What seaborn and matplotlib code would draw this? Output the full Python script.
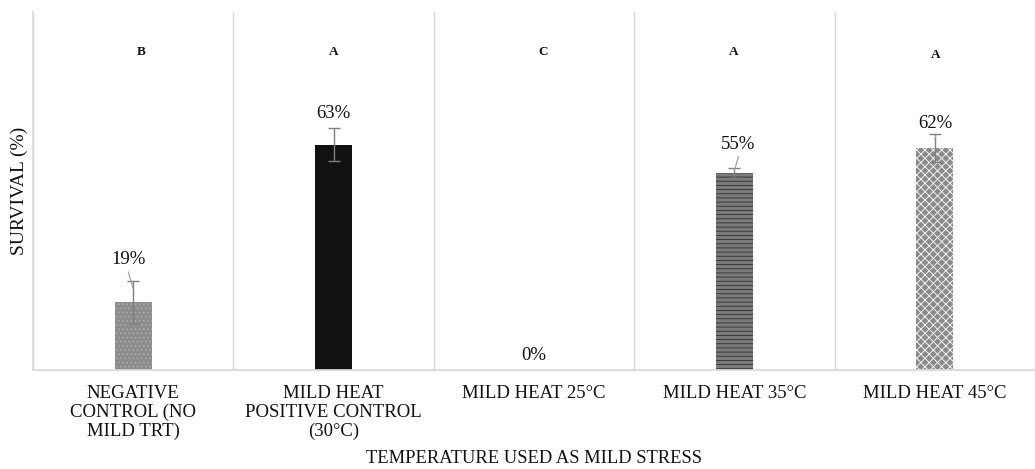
import matplotlib
matplotlib.use("Agg")
import matplotlib.pyplot as plt
import seaborn as sns
import pandas as pd
import numpy as np
from matplotlib.ticker import FixedLocator

categories = ["NEGATIVE\nCONTROL (NO\nMILD TRT)", "MILD HEAT\nPOSITIVE CONTROL\n(30°C)",
              "MILD HEAT 25°C", "MILD HEAT 35°C", "MILD HEAT 45°C"]
survival = [19, 63, 0, 55, 62]
errors = [6, 4.5, 0, 1.4, 4]
value_labels = ["19%", "63%", "0%", "55%", "62%"]
letters = ["B", "A", "C", "A", "A"]

sns.set_theme(style="white")
plt.rcParams['font.family'] = ['Liberation Serif', 'DejaVu Serif']
plt.rcParams['hatch.linewidth'] = 0.6

fig = plt.figure(figsize=(10.35, 4.69), dpi=100)
ax = fig.add_axes([0.032, 0.211, 0.968, 0.763])

df = pd.DataFrame({"cat": categories, "val": survival})
sns.barplot(data=df, x="cat", y="val", ax=ax, width=0.185, color="#808080",
            edgecolor="none", linewidth=0)

faces = ["#8c8c8c", "#111111", "#ffffff", "#7a7a7a", "#8a8a8a"]
hatches = ["....", "", "", "----", "xxxx"]
hcols = ["#b0b0b0", "#111111", "#ffffff", "#303030", "#ffffff"]
for p, fc, h, hc in zip(ax.patches, faces, hatches, hcols):
    p.set_facecolor(fc)
    p.set_hatch(h)
    p.set_edgecolor(hc)
    p.set_linewidth(0)

x = np.arange(len(categories))
for xi, v, e in zip(x, survival, errors):
    if e > 0:
        ax.errorbar(xi, v, yerr=e, fmt="none", ecolor="#7f7f7f", elinewidth=1, capsize=4, capthick=1)

# value labels (some with leader lines)
lab_pos = [(-0.025, 30.8), (0.0, 71.7), (0.0, 4.0), (0.02, 63.0), (0.005, 68.9)]
leader = [True, False, False, True, True]
for xi, v, e, lab, (dx, ly), ld in zip(x, survival, errors, value_labels, lab_pos, leader):
    ax.text(xi + dx, ly, lab, ha="center", va="center", fontsize=13.5, color="#111111")
    if ld:
        ax.plot([xi + dx, xi], [ly - 3.4, v + e * 0.6], color="#a0a0a0", lw=0.9)

letter_dx = [0.04, 0.0, 0.045, -0.005, 0.005]
letter_y = [88.8, 88.8, 88.8, 88.8, 88.0]
for xi, lt, dx, ly in zip(x, letters, letter_dx, letter_y):
    ax.text(xi + dx, ly, lt, ha="center", va="center", fontsize=9.5, fontweight="bold", color="#111111")

ax.set_ylim(0, 100)
ax.set_xlim(-0.5, 4.5)
ax.set_yticks([])
ax.xaxis.set_minor_locator(FixedLocator(np.arange(-0.5, 5.0, 1.0)))
ax.grid(True, which="minor", axis="x", color="#d9d9d9", lw=1)
ax.grid(False, which="major")
ax.tick_params(axis="x", which="both", length=0, labelsize=13.5, pad=11, colors="#111111")
for s in ["top", "right"]:
    ax.spines[s].set_visible(False)
ax.spines["left"].set_color("#d9d9d9")
ax.spines["bottom"].set_color("#d9d9d9")
ax.set_xlabel("TEMPERATURE USED AS MILD STRESS", fontsize=13.3, color="#111111", va="center")
ax.xaxis.set_label_coords(0.5, -0.247)
ax.set_ylabel("SURVIVAL (%)", fontsize=14, color="#111111", labelpad=4)
for t in ax.get_xticklabels():
    t.set_linespacing(1.12)

fig.savefig("out.png", dpi=100)
